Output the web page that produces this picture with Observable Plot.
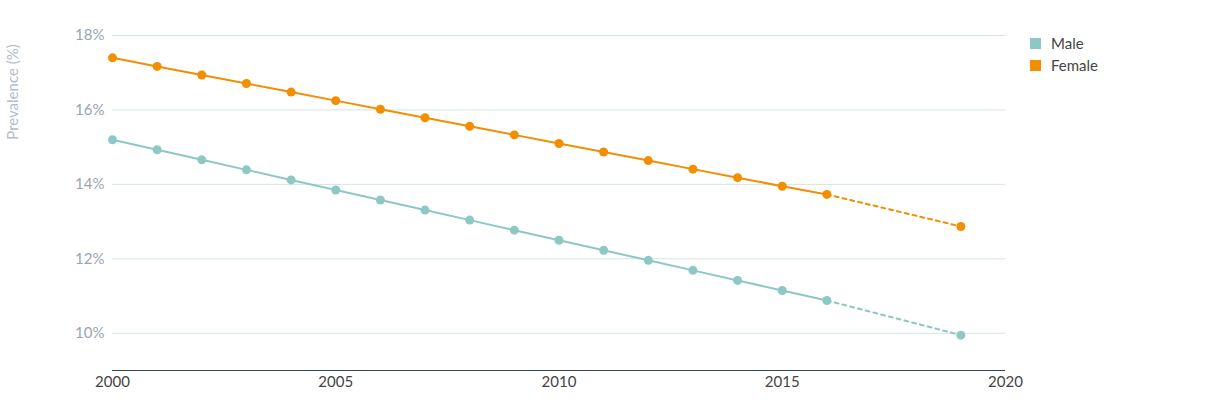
<!DOCTYPE html>
<html><head><meta charset="utf-8">
<script src="https://cdn.jsdelivr.net/npm/d3@7"></script>
<script src="https://cdn.jsdelivr.net/npm/@observablehq/plot@0.6"></script>
<style>
body{margin:0;background:#fff;font-family:Lato,sans-serif}
#wrap{position:relative;width:1230px;height:402px}
.lg{position:absolute;left:1030px;font-size:15px;color:#444;display:flex;align-items:center}
.sw{width:11px;height:11px;margin-right:10px}
#ylab{position:absolute;left:12px;top:92px;transform:translate(-50%,-50%) rotate(-90deg);white-space:nowrap;font-size:15px;color:#b4bcc6}
</style></head><body>
<div id="wrap">
<div id="chart"></div>
<div id="ylab">Prevalence (%)</div>
<div class="lg" style="top:34px"><div class="sw" style="background:#8ec8c4"></div>Male</div>
<div class="lg" style="top:56px"><div class="sw" style="background:#f28e00"></div>Female</div>
</div>
<script>
const years = [2000,2001,2002,2003,2004,2005,2006,2007,2008,2009,2010,2011,2012,2013,2014,2015,2016];
const female = [17.40,17.17,16.94,16.71,16.48,16.25,16.02,15.79,15.56,15.33,15.10,14.87,14.64,14.41,14.18,13.95,13.73];
const male = [15.20,14.93,14.66,14.39,14.12,13.85,13.58,13.31,13.04,12.77,12.50,12.23,11.96,11.69,11.42,11.15,10.88];
const projYears = [2016,2019];
const femaleProj = [13.73,12.87];
const maleProj = [10.88,9.95];
const yTicks = [10,12,14,16,18];
const xTicks = [2000,2005,2010,2015,2020];

const cM = "#8ec8c4", cF = "#f28e00";
const row = (xs, ys) => xs.map((x,i)=>({x, y: ys[i]}));
const F = row(years, female), M = row(years, male);
const FP = row(projYears, femaleProj), MP = row(projYears, maleProj);

const chart = Plot.plot({
  width: 1230, height: 402,
  marginLeft: 112, marginRight: 225, marginTop: 35, marginBottom: 32,
  style: {fontFamily: "Lato, sans-serif", fontSize: "15px"},
  x: {domain: [2000, 2020], ticks: xTicks, tickFormat: d => String(d), tickSize: 0, label: null},
  y: {domain: [9, 18], ticks: yTicks, tickFormat: d => d + "%", tickSize: 0, label: null},
  marks: [
    Plot.gridY(yTicks, {stroke: "#d6e3e3", strokeOpacity: 1}),
    Plot.ruleY([9], {stroke: "#33475b"}),
    Plot.axisY({ticks: yTicks, tickSize: 0, tickPadding: 8, tickFormat: d => d + "%", color: "#9aa4b0", fontSize: 15}),
    Plot.axisX({ticks: xTicks, tickSize: 0, tickPadding: 6, tickFormat: d => String(d), color: "#444", fontSize: 15}),
    Plot.line(M, {x: "x", y: "y", stroke: cM, strokeWidth: 2}),
    Plot.line(F, {x: "x", y: "y", stroke: cF, strokeWidth: 2}),
    Plot.line(MP, {x: "x", y: "y", stroke: cM, strokeWidth: 2, strokeDasharray: "4,4"}),
    Plot.line(FP, {x: "x", y: "y", stroke: cF, strokeWidth: 2, strokeDasharray: "4,4"}),
    Plot.dot(M.concat(MP.slice(1)), {x: "x", y: "y", fill: cM, r: 4.5}),
    Plot.dot(F.concat(FP.slice(1)), {x: "x", y: "y", fill: cF, r: 4.5})
  ]
});
document.getElementById("chart").append(chart);
</script>
</body></html>
